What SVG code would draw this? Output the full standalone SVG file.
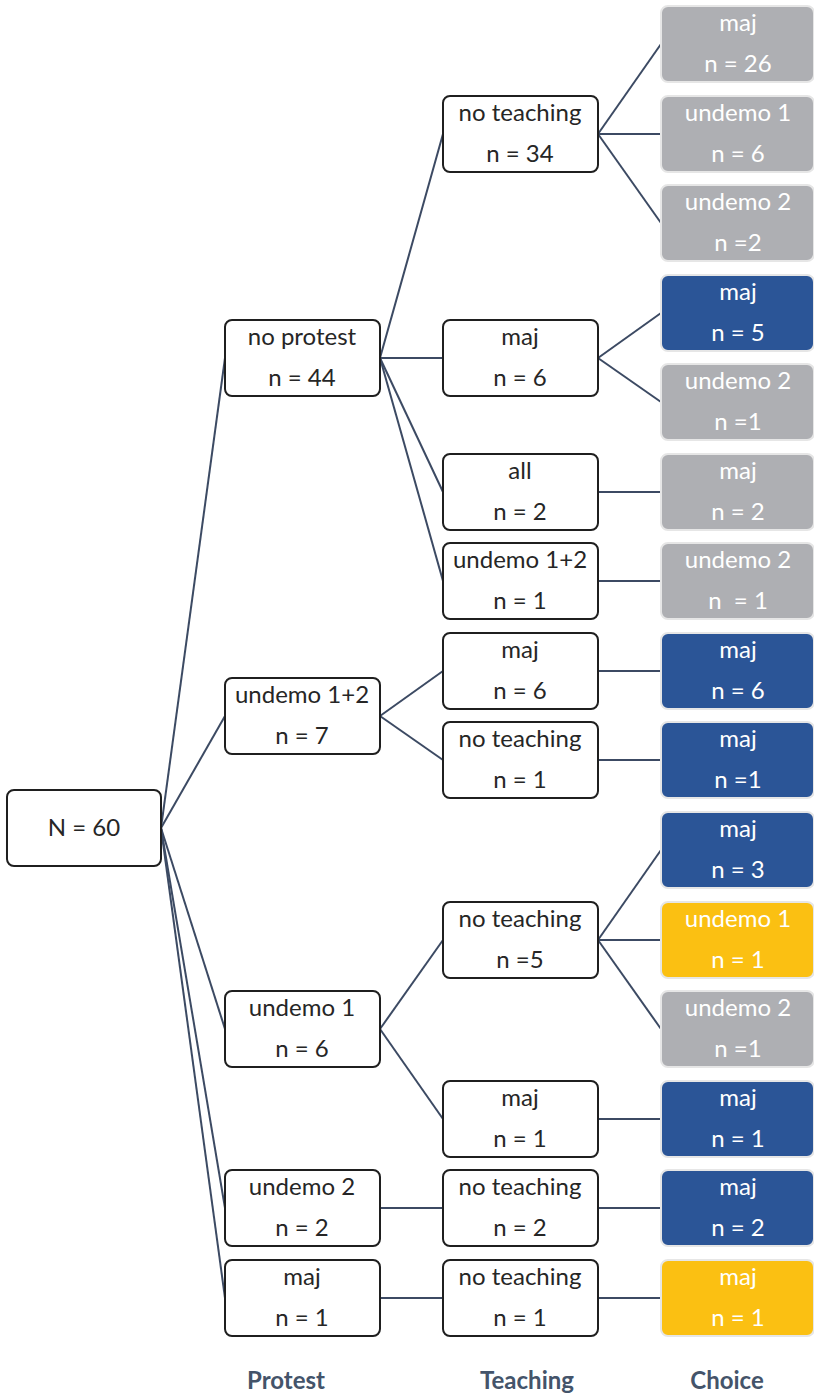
<svg xmlns="http://www.w3.org/2000/svg" width="814" height="1396" viewBox="0 0 814 1396">
<style>
.n{fill:#fff;stroke:#1f1f1f;stroke-width:2}
.g{fill:#AEAFB3;stroke:#E6E6E6;stroke-width:2}
.b{fill:#2B5597;stroke:#E6E6E6;stroke-width:2}
.y{fill:#FBC012;stroke:#E6E6E6;stroke-width:2}
text{font-family:Lato,"Liberation Sans",sans-serif;font-size:24px;text-anchor:middle}
.d{fill:#262626}
.w{fill:#fff}
.lbl{font-weight:bold;fill:#44546A;font-size:24px}
#conn line{stroke:#3C4A63;stroke-width:2}
</style>
<g id="conn">
<line x1="161" y1="828" x2="225" y2="358"/>
<line x1="161" y1="828" x2="225" y2="716"/>
<line x1="161" y1="828" x2="225" y2="1029"/>
<line x1="161" y1="828" x2="225" y2="1208"/>
<line x1="161" y1="828" x2="225" y2="1298"/>
<line x1="380" y1="358" x2="443" y2="134"/>
<line x1="380" y1="358" x2="443" y2="358"/>
<line x1="380" y1="358" x2="443" y2="492"/>
<line x1="380" y1="358" x2="443" y2="581"/>
<line x1="380" y1="716" x2="443" y2="671"/>
<line x1="380" y1="716" x2="443" y2="760"/>
<line x1="380" y1="1029" x2="443" y2="940"/>
<line x1="380" y1="1029" x2="443" y2="1119"/>
<line x1="380" y1="1208" x2="443" y2="1208"/>
<line x1="380" y1="1298" x2="443" y2="1298"/>
<line x1="598" y1="134" x2="661" y2="44"/>
<line x1="598" y1="134" x2="661" y2="134"/>
<line x1="598" y1="134" x2="661" y2="223"/>
<line x1="598" y1="358" x2="661" y2="313"/>
<line x1="598" y1="358" x2="661" y2="402"/>
<line x1="598" y1="492" x2="661" y2="492"/>
<line x1="598" y1="581" x2="661" y2="581"/>
<line x1="598" y1="671" x2="661" y2="671"/>
<line x1="598" y1="760" x2="661" y2="760"/>
<line x1="598" y1="940" x2="661" y2="850"/>
<line x1="598" y1="940" x2="661" y2="940"/>
<line x1="598" y1="940" x2="661" y2="1029"/>
<line x1="598" y1="1119" x2="661" y2="1119"/>
<line x1="598" y1="1208" x2="661" y2="1208"/>
<line x1="598" y1="1298" x2="661" y2="1298"/>
</g>
<g id="root"><rect class="n" x="7" y="790" width="154" height="76" rx="7"/><text class="d" x="84" y="836">N = 60</text></g>

<g id="p1"><rect class="n" x="225" y="320" width="155" height="76" rx="7"/><text class="d" x="302" y="345">no protest</text><text class="d" x="302" y="386">n = 44</text></g>
<g id="p2"><rect class="n" x="225" y="678" width="155" height="76" rx="7"/><text class="d" x="302" y="703">undemo 1+2</text><text class="d" x="302" y="744">n = 7</text></g>
<g id="p3"><rect class="n" x="225" y="991" width="155" height="76" rx="7"/><text class="d" x="302" y="1016">undemo 1</text><text class="d" x="302" y="1057">n = 6</text></g>
<g id="p4"><rect class="n" x="225" y="1170" width="155" height="76" rx="7"/><text class="d" x="302" y="1195">undemo 2</text><text class="d" x="302" y="1236">n = 2</text></g>
<g id="p5"><rect class="n" x="225" y="1260" width="155" height="76" rx="7"/><text class="d" x="302" y="1285">maj</text><text class="d" x="302" y="1326">n = 1</text></g>

<g id="t1"><rect class="n" x="443" y="96" width="155" height="76" rx="7"/><text class="d" x="520" y="121">no teaching</text><text class="d" x="520" y="162">n = 34</text></g>
<g id="t2"><rect class="n" x="443" y="320" width="155" height="76" rx="7"/><text class="d" x="520" y="345">maj</text><text class="d" x="520" y="386">n = 6</text></g>
<g id="t3"><rect class="n" x="443" y="454" width="155" height="76" rx="7"/><text class="d" x="520" y="479">all</text><text class="d" x="520" y="520">n = 2</text></g>
<g id="t4"><rect class="n" x="443" y="543" width="155" height="76" rx="7"/><text class="d" x="520" y="568">undemo 1+2</text><text class="d" x="520" y="609">n = 1</text></g>
<g id="t5"><rect class="n" x="443" y="633" width="155" height="76" rx="7"/><text class="d" x="520" y="658">maj</text><text class="d" x="520" y="699">n = 6</text></g>
<g id="t6"><rect class="n" x="443" y="722" width="155" height="76" rx="7"/><text class="d" x="520" y="747">no teaching</text><text class="d" x="520" y="788">n = 1</text></g>
<g id="t7"><rect class="n" x="443" y="902" width="155" height="76" rx="7"/><text class="d" x="520" y="927">no teaching</text><text class="d" x="520" y="968">n =5</text></g>
<g id="t8"><rect class="n" x="443" y="1081" width="155" height="76" rx="7"/><text class="d" x="520" y="1106">maj</text><text class="d" x="520" y="1147">n = 1</text></g>
<g id="t9"><rect class="n" x="443" y="1170" width="155" height="76" rx="7"/><text class="d" x="520" y="1195">no teaching</text><text class="d" x="520" y="1236">n = 2</text></g>
<g id="t10"><rect class="n" x="443" y="1260" width="155" height="76" rx="7"/><text class="d" x="520" y="1285">no teaching</text><text class="d" x="520" y="1326">n = 1</text></g>

<g id="c1"><rect class="g" x="661" y="6" width="153" height="76" rx="7"/><text class="w" x="738" y="31">maj</text><text class="w" x="738" y="72">n = 26</text></g>
<g id="c2"><rect class="g" x="661" y="96" width="153" height="76" rx="7"/><text class="w" x="738" y="121">undemo 1</text><text class="w" x="738" y="162">n = 6</text></g>
<g id="c3"><rect class="g" x="661" y="185" width="153" height="76" rx="7"/><text class="w" x="738" y="210">undemo 2</text><text class="w" x="738" y="251">n =2</text></g>
<g id="c4"><rect class="b" x="661" y="275" width="153" height="76" rx="7"/><text class="w" x="738" y="300">maj</text><text class="w" x="738" y="341">n = 5</text></g>
<g id="c5"><rect class="g" x="661" y="364" width="153" height="76" rx="7"/><text class="w" x="738" y="389">undemo 2</text><text class="w" x="738" y="430">n =1</text></g>
<g id="c6"><rect class="g" x="661" y="454" width="153" height="76" rx="7"/><text class="w" x="738" y="479">maj</text><text class="w" x="738" y="520">n = 2</text></g>
<g id="c7"><rect class="g" x="661" y="543" width="153" height="76" rx="7"/><text class="w" x="738" y="568">undemo 2</text><text class="w" x="738" y="609" xml:space="preserve">n  = 1</text></g>
<g id="c8"><rect class="b" x="661" y="633" width="153" height="76" rx="7"/><text class="w" x="738" y="658">maj</text><text class="w" x="738" y="699">n = 6</text></g>
<g id="c9"><rect class="b" x="661" y="722" width="153" height="76" rx="7"/><text class="w" x="738" y="747">maj</text><text class="w" x="738" y="788">n =1</text></g>
<g id="c10"><rect class="b" x="661" y="812" width="153" height="76" rx="7"/><text class="w" x="738" y="837">maj</text><text class="w" x="738" y="878">n = 3</text></g>
<g id="c11"><rect class="y" x="661" y="902" width="153" height="76" rx="7"/><text class="w" x="738" y="927">undemo 1</text><text class="w" x="738" y="968">n = 1</text></g>
<g id="c12"><rect class="g" x="661" y="991" width="153" height="76" rx="7"/><text class="w" x="738" y="1016">undemo 2</text><text class="w" x="738" y="1057">n =1</text></g>
<g id="c13"><rect class="b" x="661" y="1081" width="153" height="76" rx="7"/><text class="w" x="738" y="1106">maj</text><text class="w" x="738" y="1147">n = 1</text></g>
<g id="c14"><rect class="b" x="661" y="1170" width="153" height="76" rx="7"/><text class="w" x="738" y="1195">maj</text><text class="w" x="738" y="1236">n = 2</text></g>
<g id="c15"><rect class="y" x="661" y="1260" width="153" height="76" rx="7"/><text class="w" x="738" y="1285">maj</text><text class="w" x="738" y="1326">n = 1</text></g>

<text class="lbl" x="286" y="1389">Protest</text>
<text class="lbl" x="527" y="1389">Teaching</text>
<text class="lbl" x="727" y="1389">Choice</text>
</svg>
